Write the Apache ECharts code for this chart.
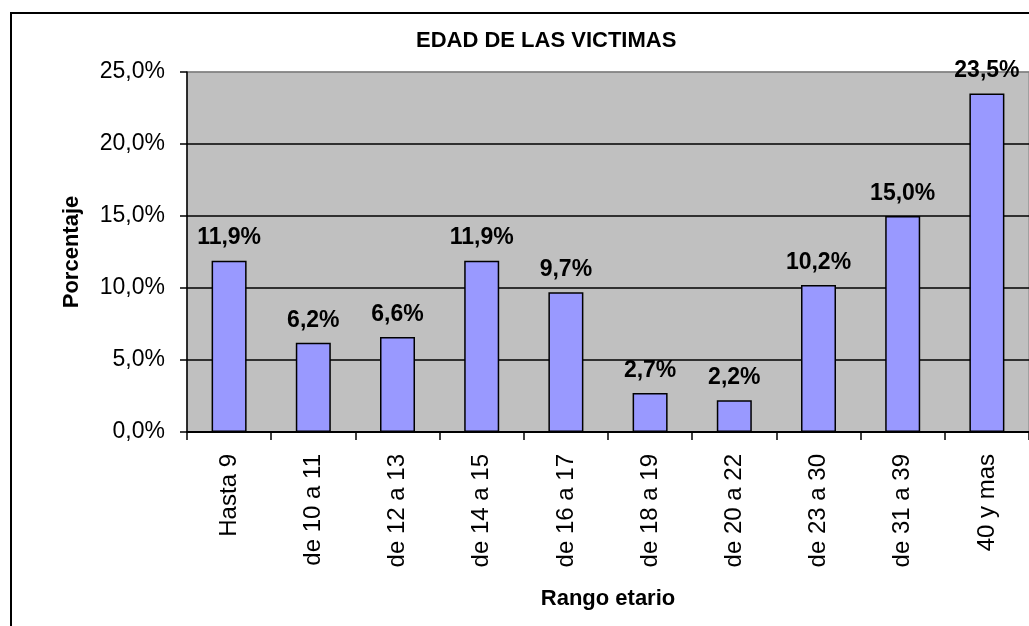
<!DOCTYPE html>
<html><head><meta charset="utf-8">
<script src="https://cdn.jsdelivr.net/npm/echarts@6/dist/echarts.min.js"></script>
<style>html,body{margin:0;padding:0;background:#fff}#c{width:1029px;height:626px}</style>
</head><body><div id="c"></div>
<script>
var categories = ["Hasta 9","de 10 a 11","de 12 a 13","de 14 a 15","de 16 a 17","de 18 a 19","de 20 a 22","de 23 a 30","de 31 a 39","40 y mas"];
var percentages = [11.9, 6.2, 6.6, 11.9, 9.7, 2.7, 2.2, 10.2, 15.0, 23.5];
var yTicks = [0, 5, 10, 15, 20, 25];
var titleText = "EDAD DE LAS VICTIMAS";
var xName = "Rango etario";
var yName = "Porcentaje";

function fmt(v){ return Number(v).toFixed(1).replace('.', ',') + '%'; }
var FF = "'Liberation Sans', Arial, sans-serif";
var chart = echarts.init(document.getElementById('c'), null, {renderer:'canvas'});
chart.setOption({
  animation:false,
  backgroundColor:'#fff',
  title:{text:titleText,left:411,top:25,textStyle:{fontFamily:FF,fontSize:22,fontWeight:'bold',color:'#000'}},
  graphic:[{type:'rect',shape:{x:11,y:13,width:1200,height:800},style:{fill:null,stroke:'#000',lineWidth:2},z:100}],
  grid:{left:187,top:72,width:850,height:360,show:true,backgroundColor:'#C0C0C0',borderColor:'#808080',borderWidth:1},
  xAxis:{type:'category',data:categories,
    name:xName,nameLocation:'middle',nameGap:156,
    nameTextStyle:{fontFamily:FF,fontSize:22,fontWeight:'bold',color:'#000'},
    axisLine:{lineStyle:{color:'#000',width:2}},
    axisTick:{show:true,length:8,lineStyle:{color:'#000',width:1.5}},
    axisLabel:{rotate:90,margin:22,fontFamily:FF,fontSize:24,color:'#000',interval:0}},
  yAxis:{type:'value',min:yTicks[0],max:yTicks[yTicks.length-1],interval:5,
    name:yName,nameLocation:'middle',nameGap:104,nameRotate:90,
    nameTextStyle:{fontFamily:FF,fontSize:22,fontWeight:'bold',color:'#000'},
    axisLine:{show:true,lineStyle:{color:'#000',width:1.5}},
    axisTick:{show:true,length:7,lineStyle:{color:'#000',width:1.5}},
    axisLabel:{margin:22,fontFamily:FF,fontSize:23,color:'#000',formatter:fmt},
    splitLine:{show:true,lineStyle:{color:['#000','#000','#000','#000','#000','#808080'],width:1.5}}},
  series:[{type:'bar',data:percentages,barWidth:35,
    itemStyle:{color:'#9999FF',borderColor:'#000',borderWidth:1.5},
    label:{show:true,position:'top',distance:11,formatter:function(p){return fmt(p.value);},
      fontFamily:FF,fontSize:23,fontWeight:'bold',color:'#000'}}]
});
</script></body></html>
